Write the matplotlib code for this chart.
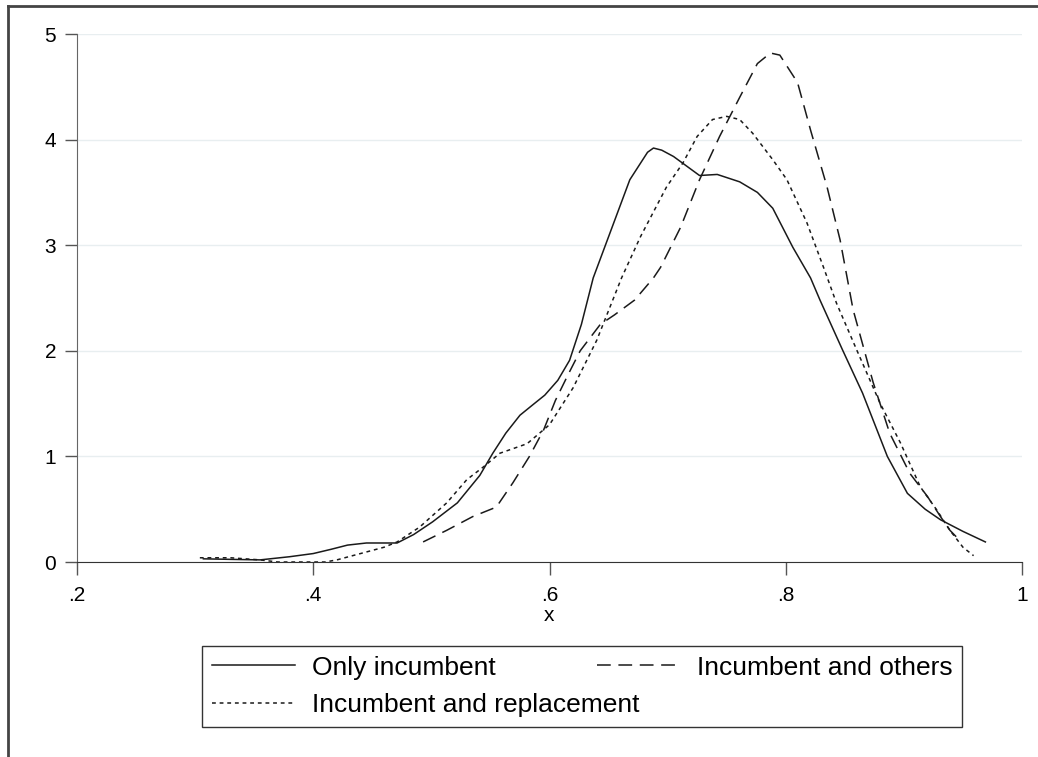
import matplotlib
matplotlib.use('Agg')
import matplotlib.pyplot as plt
from matplotlib.lines import Line2D

# Kernel density estimates
x_only = [0.307, 0.33, 0.355, 0.38, 0.40, 0.415, 0.429, 0.445, 0.46, 0.471, 0.485,
          0.501, 0.522, 0.541, 0.552, 0.563, 0.575, 0.586, 0.596, 0.607, 0.617, 0.627,
          0.637, 0.651, 0.668, 0.683, 0.688, 0.695, 0.705, 0.716, 0.727, 0.742, 0.761,
          0.776, 0.789, 0.806, 0.821, 0.829, 0.848, 0.865, 0.886, 0.903, 0.918, 0.931,
          0.95, 0.969]
y_only = [0.03, 0.025, 0.02, 0.05, 0.08, 0.12, 0.16, 0.18, 0.18, 0.18, 0.26,
          0.38, 0.56, 0.82, 1.03, 1.22, 1.39, 1.49, 1.58, 1.72, 1.91, 2.25,
          2.69, 3.11, 3.62, 3.88, 3.92, 3.90, 3.84, 3.75, 3.66, 3.67, 3.60,
          3.50, 3.35, 2.98, 2.69, 2.48, 2.01, 1.60, 1.00, 0.65, 0.50, 0.40,
          0.29, 0.19]

x_others = [0.493, 0.513, 0.535, 0.555, 0.569, 0.583, 0.595, 0.605, 0.616, 0.626,
            0.643, 0.655, 0.672, 0.688, 0.694, 0.711, 0.727, 0.744, 0.761, 0.776,
            0.787, 0.795, 0.810, 0.821, 0.835, 0.846, 0.857, 0.874, 0.888, 0.905,
            0.920, 0.931, 0.939, 0.946]
y_others = [0.19, 0.30, 0.43, 0.52, 0.75, 1.00, 1.25, 1.53, 1.78, 2.00,
            2.25, 2.34, 2.48, 2.69, 2.79, 3.17, 3.62, 4.03, 4.40, 4.72,
            4.82, 4.80, 4.54, 4.09, 3.55, 3.05, 2.39, 1.70, 1.22, 0.84,
            0.62, 0.43, 0.30, 0.22]

x_repl = [0.304, 0.33, 0.355, 0.37, 0.39, 0.41, 0.42, 0.44, 0.46, 0.471, 0.490,
          0.513, 0.530, 0.544, 0.558, 0.581, 0.60, 0.62, 0.64, 0.661, 0.677,
          0.699, 0.713, 0.725, 0.738, 0.750, 0.761, 0.772, 0.789, 0.801, 0.818,
          0.832, 0.843, 0.860, 0.880, 0.897, 0.914, 0.928, 0.939, 0.950, 0.959]
y_repl = [0.04, 0.04, 0.02, 0.0, 0.0, 0.0, 0.02, 0.08, 0.14, 0.19, 0.33,
          0.56, 0.78, 0.90, 1.03, 1.12, 1.30, 1.65, 2.10, 2.69, 3.08,
          3.55, 3.78, 4.03, 4.19, 4.22, 4.19, 4.06, 3.81, 3.62, 3.21,
          2.79, 2.45, 2.01, 1.50, 1.13, 0.71, 0.49, 0.30, 0.14, 0.06]

labels = ['Only incumbent', 'Incumbent and others', 'Incumbent and replacement']
x_ticks = [0.2, 0.4, 0.6, 0.8, 1.0]
x_ticklabels = ['.2', '.4', '.6', '.8', '1']
y_ticks = [0, 1, 2, 3, 4, 5]

plt.rcParams['font.family'] = ['Liberation Sans', 'DejaVu Sans']

fig = plt.figure(figsize=(10.38, 7.57), dpi=100)
ax = fig.add_axes([77/1038, 1-562/757, (1022-77)/1038, (562-34)/757])

ink = '#1a1a1a'
l1, = ax.plot(x_only, y_only, color=ink, lw=1.1, ls='-')
l2, = ax.plot(x_others, y_others, color=ink, lw=1.1, ls=(0, (9, 5)))
l3, = ax.plot(x_repl, y_repl, color=ink, lw=1.1, ls=(0, (2.5, 2.5)))

ax.set_xlim(0.2, 1.0)
ax.set_ylim(0, 5)
ax.set_xticks(x_ticks)
ax.set_xticklabels(x_ticklabels)
ax.set_yticks(y_ticks)
ax.tick_params(axis='both', labelsize=15, length=9, width=1, color='#555555')
ax.tick_params(axis='x', pad=8)
ax.tick_params(axis='y', pad=6)
ax.grid(axis='y', color='#e8eef0', lw=1)
ax.set_axisbelow(True)
for s in ['top', 'right']:
    ax.spines[s].set_visible(False)
ax.spines['left'].set_color('#666666')
ax.spines['bottom'].set_color('#333333')
ax.set_xlabel('x', fontsize=15, labelpad=1)

# legend below the plot
fig.legend([l1, l3, l2], [labels[0], labels[2], labels[1]], ncol=2,
           loc='center', bbox_to_anchor=(202/1038, 1-727/757, (962-202)/1038, (727-646)/757),
           mode='expand', fontsize=19, frameon=True, fancybox=False,
           edgecolor='black', handlelength=3.15, handletextpad=0.65,
           labelspacing=0.53, borderpad=0.36, borderaxespad=0)
fig.legends[0].get_frame().set_linewidth(1.0)

# outer frame (right and bottom edges fall outside the image)
fig.add_artist(Line2D([8/1038, 8/1038], [0, 1-6/757], transform=fig.transFigure,
                      color='#444444', lw=2))
fig.add_artist(Line2D([8/1038, 1], [1-6/757, 1-6/757], transform=fig.transFigure,
                      color='#444444', lw=2))

fig.savefig('out.png', dpi=100)
